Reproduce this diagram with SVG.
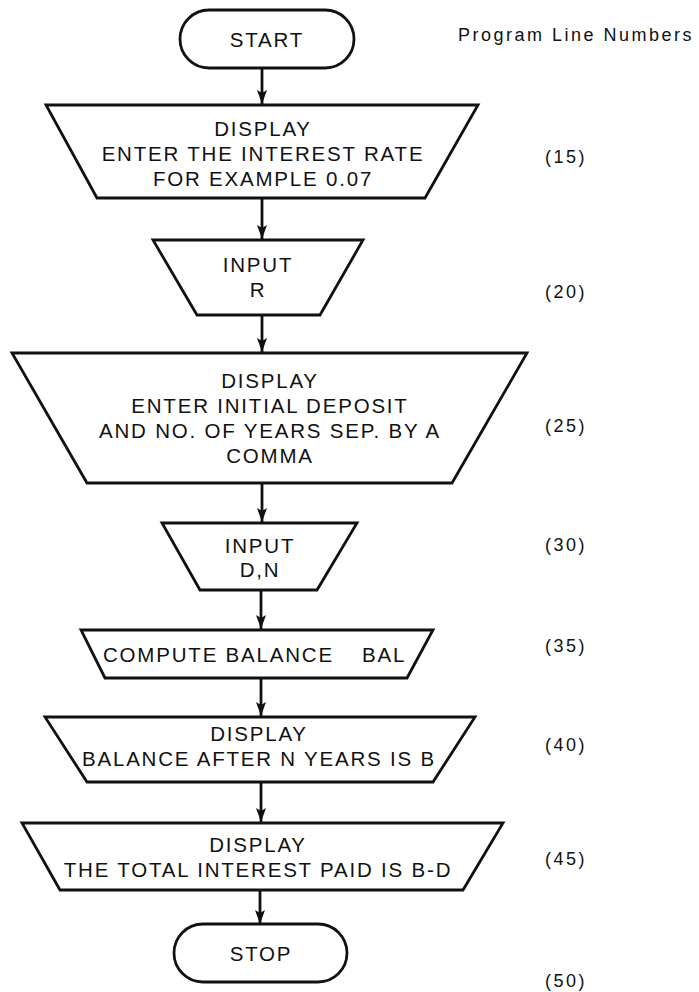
<svg xmlns="http://www.w3.org/2000/svg" width="699" height="992" viewBox="0 0 699 992">
<defs>
<marker id="ah" markerWidth="14" markerHeight="10" refX="14" refY="5" orient="auto" markerUnits="userSpaceOnUse" viewBox="0 0 14 10">
<path d="M0,0 L14,5 L0,10 L3,5 Z" fill="#111"/>
</marker>
<style>
.shape{fill:#fff;stroke:#111;stroke-width:2.8;stroke-linejoin:miter}
.t{font-family:"Liberation Sans",Arial,sans-serif;font-size:20.5px;letter-spacing:1.8px;fill:#111;text-anchor:middle}
.ts{text-anchor:start}
.lbl{font-family:"Liberation Sans",Arial,sans-serif;font-size:18px;letter-spacing:2.5px;fill:#111}
.conn{stroke:#111;stroke-width:2.8;fill:none;marker-end:url(#ah)}
</style>
</defs>
<rect width="699" height="992" fill="#fff"/>
<g id="connectors">
<line class="conn" x1="262" y1="68" x2="262" y2="104"/>
<line class="conn" x1="262" y1="198" x2="262" y2="239"/>
<line class="conn" x1="262" y1="315" x2="262" y2="352"/>
<line class="conn" x1="262" y1="483" x2="262" y2="522"/>
<line class="conn" x1="261" y1="590" x2="261" y2="629"/>
<line class="conn" x1="261" y1="678" x2="261" y2="716"/>
<line class="conn" x1="261" y1="782" x2="261" y2="822"/>
<line class="conn" x1="260" y1="890" x2="260" y2="924"/>
</g>
<g id="start">
<rect class="shape" x="180" y="10" width="174" height="58" rx="29" ry="29"/>
<text class="t" x="267" y="47">START</text>
</g>
<g id="display15">
<polygon class="shape" points="46,105 478,105 425,198 97,198"/>
<text class="t" x="263" y="136">DISPLAY</text>
<text class="t" x="263" y="161">ENTER THE INTEREST RATE</text>
<text class="t" x="263" y="186">FOR EXAMPLE 0.07</text>
</g>
<g id="input20">
<polygon class="shape" points="153,240 363,240 320,315 197,315"/>
<text class="t" x="258" y="272">INPUT</text>
<text class="t" x="258" y="297">R</text>
</g>
<g id="display25">
<polygon class="shape" points="12,353 527,353 452,483 87,483"/>
<text class="t" x="270" y="388">DISPLAY</text>
<text class="t" x="270" y="413">ENTER INITIAL DEPOSIT</text>
<text class="t" x="270" y="438">AND NO. OF YEARS SEP. BY A</text>
<text class="t" x="270" y="463">COMMA</text>
</g>
<g id="input30">
<polygon class="shape" points="162,523 357,523 317,590 200,590"/>
<text class="t" x="260" y="553">INPUT</text>
<text class="t" x="260" y="577">D,N</text>
</g>
<g id="compute35">
<polygon class="shape" points="81,630 433,630 407,678 105,678"/>
<text class="t ts" x="103" y="662">COMPUTE BALANCE<tspan x="362">BAL</tspan></text>
</g>
<g id="display40">
<polygon class="shape" points="45,717 475,717 433,782 87,782"/>
<text class="t" x="259" y="741">DISPLAY</text>
<text class="t" x="259" y="766">BALANCE AFTER N YEARS IS B</text>
</g>
<g id="display45">
<polygon class="shape" points="22,823 503,823 463,890 60,890"/>
<text class="t" x="258" y="852">DISPLAY</text>
<text class="t" x="258" y="877">THE TOTAL INTEREST PAID IS B-D</text>
</g>
<g id="stop">
<rect class="shape" x="174" y="924" width="173" height="58" rx="29" ry="29"/>
<text class="t" x="261" y="961">STOP</text>
</g>
<g id="line-numbers">
<text class="lbl" x="458" y="41">Program Line Numbers</text>
<text class="lbl" x="545" y="163">(15)</text>
<text class="lbl" x="545" y="298">(20)</text>
<text class="lbl" x="545" y="432">(25)</text>
<text class="lbl" x="545" y="551">(30)</text>
<text class="lbl" x="545" y="652">(35)</text>
<text class="lbl" x="545" y="751">(40)</text>
<text class="lbl" x="545" y="865">(45)</text>
<text class="lbl" x="545" y="987">(50)</text>
</g>
</svg>
